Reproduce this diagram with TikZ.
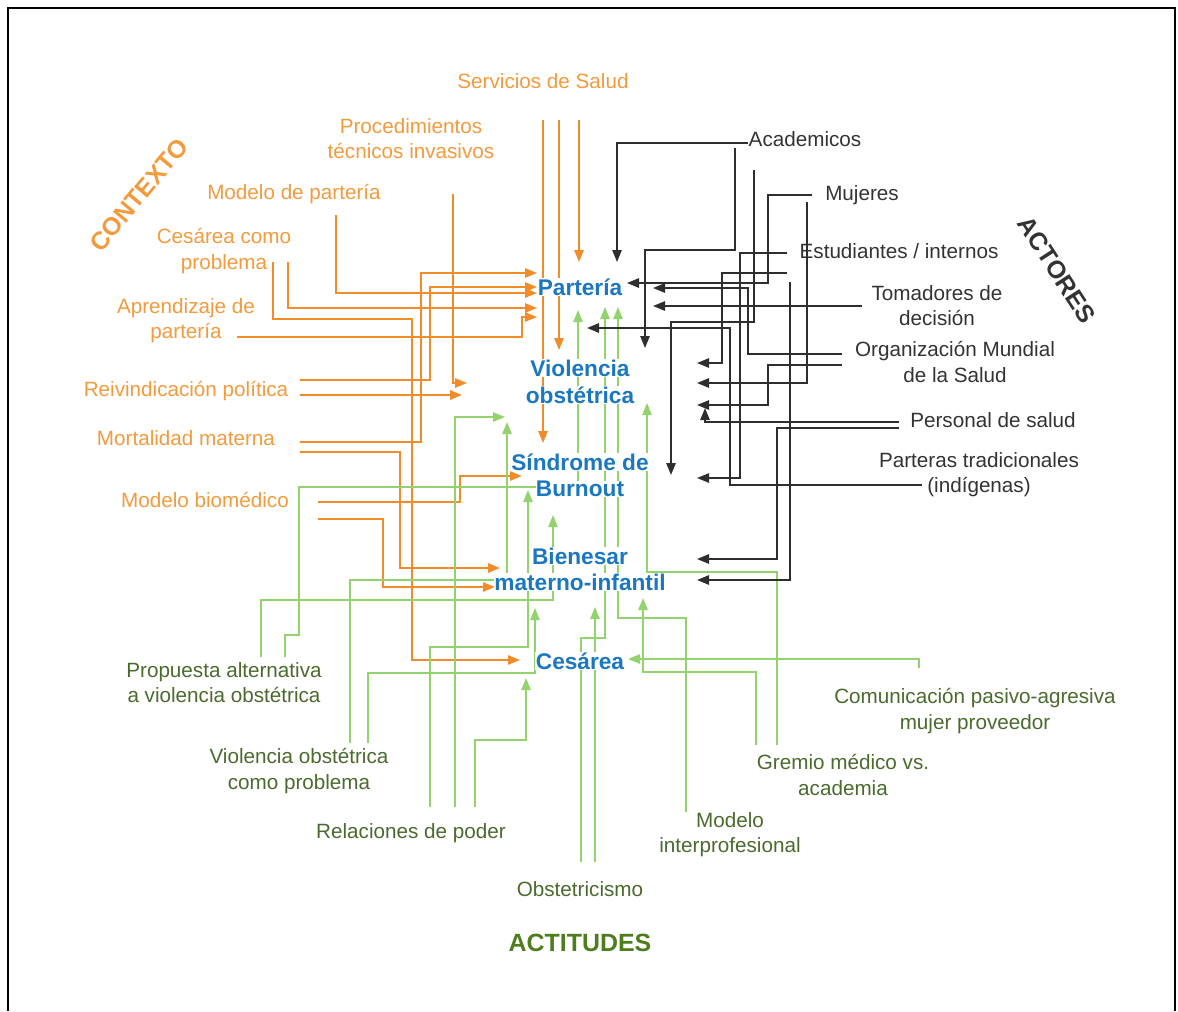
\documentclass[tikz,border=0pt]{standalone}
\usepackage{fontspec}
\setmainfont{Liberation Sans}
\usetikzlibrary{arrows.meta}
\definecolor{orL}{HTML}{F28C28}
\definecolor{orT}{HTML}{F39A3C}
\definecolor{blT}{HTML}{1B78C0}
\definecolor{gkL}{HTML}{2E2E2E}
\definecolor{gkT}{HTML}{333333}
\definecolor{grL}{HTML}{93D36E}
\definecolor{grT}{HTML}{4B6A2D}
\definecolor{grH}{HTML}{4E7D1E}
\begin{document}
\begin{tikzpicture}[x=0.75pt,y=-0.75pt,
  ol/.style={orL,line width=1.4pt,-{Triangle[length=9pt,width=7pt]}},
  kl/.style={gkL,line width=1.3pt,-{Triangle[length=9pt,width=7pt]}},
  gl/.style={grL,line width=1.1pt,-{Triangle[length=9pt,width=7pt]}},
  lab/.style={align=center,font=\fontsize{15.5}{18.8}\selectfont,inner sep=0pt},
  olab/.style={lab,text=orT},
  klab/.style={lab,text=gkT},
  glab/.style={lab,text=grT},
  cen/.style={font=\bfseries\fontsize{17}{20.3}\selectfont,text=blT,fill=white,inner sep=0.3pt},
  ttl/.style={font=\bfseries\fontsize{18.7}{22}\selectfont,inner sep=0pt}]
\useasboundingbox (0,0) rectangle (1178,1011);
\draw[line width=1pt,black] (8,1011) -- (8,8) -- (1175,8) -- (1175,1011);

% ---------- labels ----------
\node[olab] (serv) at (543,81) {Servicios de Salud};
\node[olab] (proc) at (411,139) {Procedimientos\\técnicos invasivos};
\node[olab] (modp) at (294,194) {Modelo de partería};
\node[olab] (cesp) at (224,251) {Cesárea como\\problema};
\node[olab] (apr) at (186,321) {Aprendizaje de\\partería};
\node[olab] (reiv) at (186,391) {Reivindicación política};
\node[olab] (mort) at (186,438) {Mortalidad materna};
\node[olab] (biom) at (205,500) {Modelo biomédico};
\node[ttl,text=orT,rotate=50] (ctx) at (139,195) {CONTEXTO};

\node[klab] (acad) at (805,139) {Academicos};
\node[klab] (muj) at (862,195) {Mujeres};
\node[klab] (est) at (899,251) {Estudiantes / internos};
\node[klab] (tom) at (937,306) {Tomadores de\\decisión};
\node[klab] (oms) at (955,362) {Organización Mundial\\de la Salud};
\node[klab] (pers) at (993,420) {Personal de salud};
\node[klab] (parti) at (979,475) {Parteras tradicionales\\(indígenas)};
\node[ttl,text=gkT,rotate=-57] (act) at (1057,270) {ACTORES};

\node[glab] (prop) at (224,683) {Propuesta alternativa\\a violencia obstétrica};
\node[glab] (vop) at (299,771) {Violencia obstétrica\\como problema};
\node[glab] (rel) at (411,833) {Relaciones de poder};
\node[glab] (obs) at (580,889) {Obstetricismo};
\node[glab] (modi) at (730,835) {Modelo\\interprofesional};
\node[glab] (grem) at (843,775) {Gremio médico vs.\\academia};
\node[glab] (com) at (975,711) {Comunicación pasivo-agresiva\\mujer proveedor};
\node[ttl,text=grH] (actit) at (580,943) {ACTITUDES};

% ---------- orange connectors (contexto) ----------
\draw[ol] (579,120) -- (579,262);
\draw[ol] (559,120) -- (559,350);
\draw[ol] (543,120) -- (543,443);
\draw[ol] (453,194) -- (453,383) -- (467,383);
\draw[ol] (300,395) -- (462,395);
\draw[ol] (336,215) -- (336,293) -- (537,293);
\draw[ol] (288,262) -- (288,308) -- (537,308);
\draw[ol] (273,262) -- (273,319) -- (412,319) -- (412,660) -- (520,660);
\draw[ol] (237,337) -- (522,337) -- (522,317) -- (537,317);
\draw[ol] (300,380) -- (430,380) -- (430,287) -- (537,287);
\draw[ol] (300,442) -- (421,442) -- (421,273) -- (537,273);
\draw[ol] (300,452) -- (400,452) -- (400,568) -- (500,568);
\draw[ol] (318,502) -- (460,502) -- (460,476) -- (522,476);
\draw[ol] (318,519) -- (383,519) -- (383,587) -- (495,587);

% ---------- green connectors (actitudes) ----------
\draw[gl] (261,657) -- (261,600) -- (553,600) -- (553,515);
\draw[gl] (285,657) -- (285,635) -- (299,635) -- (299,487) -- (578,487) -- (578,310);
\draw[gl] (350,743) -- (350,580) -- (507,580) -- (507,422);
\draw[gl] (368,743) -- (368,673) -- (535,673) -- (535,608);
\draw[gl] (430,807) -- (430,647) -- (528,647) -- (528,490);
\draw[gl] (455,807) -- (455,417) -- (505,417);
\draw[gl] (475,807) -- (475,740) -- (526,740) -- (526,678);
\draw[gl] (581,862) -- (581,638) -- (605,638) -- (605,307);
\draw[gl] (595,862) -- (595,607);
\draw[gl] (686,812) -- (686,618) -- (618,618) -- (618,307);
\draw[gl] (756,745) -- (756,672) -- (643,672) -- (643,598);
\draw[gl] (777,745) -- (777,572) -- (647,572) -- (647,403);
\draw[gl] (919,668) -- (919,659) -- (628,659);

% ---------- black connectors (actores) ----------
\draw[kl] (748,143) -- (617,143) -- (617,262);
\draw[kl] (735,148) -- (735,250) -- (645,250) -- (645,348);
\draw[kl] (754,170) -- (754,322) -- (671,322) -- (671,475);
\draw[kl] (812,195) -- (768,195) -- (768,283) -- (627,283);
\draw[kl] (807,202) -- (807,383) -- (697,383);
\draw[kl] (787,253) -- (740,253) -- (740,478) -- (697,478);
\draw[kl] (787,273) -- (722,273) -- (722,363) -- (697,363);
\draw[kl] (790,282) -- (790,580) -- (697,580);
\draw[kl] (862,306) -- (653,306);
\draw[kl] (842,354) -- (748,354) -- (748,288) -- (653,288);
\draw[kl] (842,365) -- (768,365) -- (768,405) -- (697,405);
\draw[kl] (899,422) -- (705,422) -- (705,408);
\draw[kl] (899,428) -- (777,428) -- (777,559) -- (697,559);
\draw[kl] (922,485) -- (730,485) -- (730,328) -- (587,328);

% ---------- central concepts (one node per printed line) ----------
\node[cen] (c1) at (580,287) {Partería};
\node[cen] (c2) at (580,368) {Violencia};
\node[cen] (c2b) at (580,395) {obstétrica};
\node[cen] (c3) at (580,462) {Síndrome de};
\node[cen] (c3b) at (580,489) {Burnout};
\node[cen] (c4) at (580,556) {Bienesar};
\node[cen] (c4b) at (580,582) {materno-infantil};
\node[cen] (c5) at (580,661) {Cesárea};
\end{tikzpicture}
\end{document}
